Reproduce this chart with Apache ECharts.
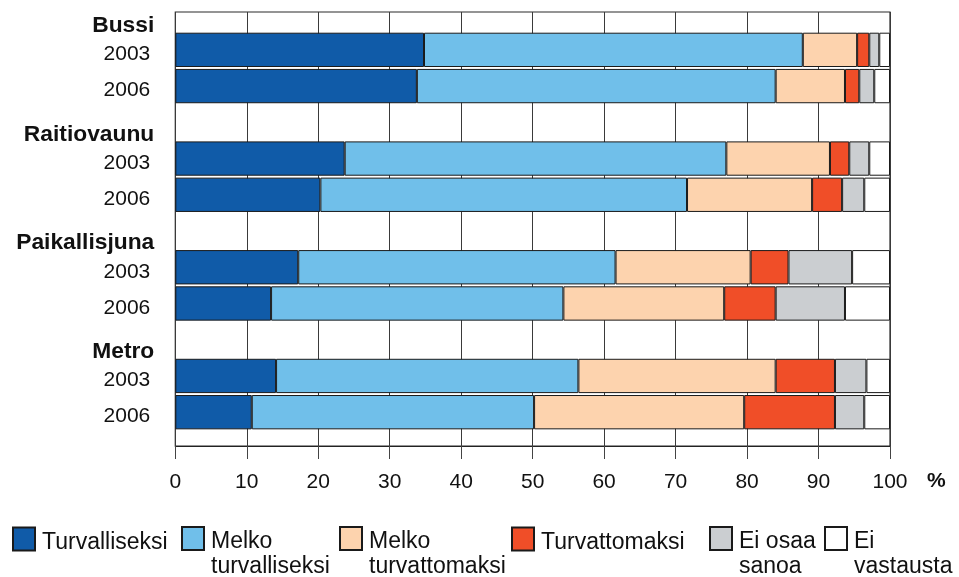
<!DOCTYPE html>
<html>
<head>
<meta charset="utf-8">
<script src="https://cdn.jsdelivr.net/npm/echarts@6/dist/echarts.min.js"></script>
<style>html,body{margin:0;padding:0;background:#fff}#c{width:959px;height:577px}</style>
</head>
<body>
<div id="c"></div>
<script>
// Groups (top to bottom) and survey years
const groups = ['Bussi', 'Raitiovaunu', 'Paikallisjuna', 'Metro'];
const years = ['2003', '2006'];
// Values per group-year, order: Bussi 2003, Bussi 2006, Raitiovaunu 2003, 2006, Paikallisjuna 2003, 2006, Metro 2003, 2006 (%)
const turvalliseksi      = [34.8, 33.8, 23.7, 20.3, 17.2, 13.4, 14.1, 10.7];
const melkoTurvalliseksi = [53.0, 50.2, 53.4, 51.3, 44.4, 40.9, 42.3, 39.5];
const melkoTurvattomaksi = [7.6, 9.7, 14.5, 17.5, 18.9, 22.5, 27.6, 29.4];
const turvattomaksi      = [1.7, 2.0, 2.7, 4.2, 5.3, 7.2, 8.3, 12.7];
const eiOsaaSanoa        = [1.4, 2.1, 2.8, 3.1, 8.9, 9.7, 4.4, 4.1];
const eiVastausta        = [1.5, 2.2, 2.9, 3.6, 5.3, 6.3, 3.3, 3.6];
const seriesNames = ['Turvalliseksi', 'Melko\nturvalliseksi', 'Melko\nturvattomaksi', 'Turvattomaksi', 'Ei osaa\nsanoa', 'Ei\nvastausta'];
const seriesColors = ['#105BA8', '#70BFEA', '#FDD3AE', '#F04E28', '#CBCED1', '#FFFFFF'];
const xTicks = [0, 10, 20, 30, 40, 50, 60, 70, 80, 90, 100];

// Build category rows: a header row per group followed by its years
const rowKeys = [];
groups.forEach(g => { rowKeys.push('h|' + g); years.forEach(y => rowKeys.push('y|' + y + '|' + g)); });
function expand(vals) {
  const out = []; let k = 0;
  groups.forEach(() => { out.push(null); years.forEach(() => out.push(vals[k++])); });
  return out;
}
const allVals = [turvalliseksi, melkoTurvalliseksi, melkoTurvattomaksi, turvattomaksi, eiOsaaSanoa, eiVastausta];

const FONT = "'Liberation Sans', Arial, Helvetica, sans-serif";
const GL = 175.3, GR = 959 - 890;

const legendLefts = [12, 181, 339, 511, 709, 824];
const legends = seriesNames.map((n, i) => {
  const two = n.indexOf('\n') >= 0;
  return {
    data: [n], left: legendLefts[i], top: two ? 497.5 : 523, padding: 0, orient: 'horizontal',
    itemWidth: 22, itemHeight: 23, icon: 'rect', selectedMode: false,
    formatter: name => name.split('\n').map(s => '{a|' + s + '}').join('\n'),
    textStyle: { fontFamily: FONT, fontSize: 23, color: '#111', lineHeight: 25,
      padding: two ? [32, 0, 0, 2] : [7, 0, 0, 2],
      rich: { a: { fontFamily: FONT, fontSize: 23, color: '#111', lineHeight: 25 } } }
  };
});

const chart = echarts.init(document.getElementById('c'), null, { renderer: 'canvas' });
chart.setOption({
  backgroundColor: '#fff',
  animation: false,
  legend: legends,
  grid: [
    { left: GL, right: GR, top: -4.5, height: 434.8, show: false, outerBoundsMode: 'none', containLabel: false },
    { left: GL, right: GR, top: 12, height: 434, show: true, borderColor: '#2a2a2a', borderWidth: 1.2, backgroundColor: 'transparent', outerBoundsMode: 'none', containLabel: false }
  ],
  xAxis: [
    { gridIndex: 0, type: 'value', min: 0, max: 100, show: false },
    { gridIndex: 1, type: 'value', min: 0, max: 100, interval: 10,
      axisLine: { show: true, lineStyle: { color: '#222', width: 1 } },
      axisTick: { show: true, length: 13, inside: false, lineStyle: { color: '#444', width: 1 } },
      splitLine: { show: true, lineStyle: { color: '#3a3a3a', width: 1 } },
      axisLabel: { margin: 26, fontFamily: FONT, fontSize: 21, color: '#111',
        formatter: v => xTicks.indexOf(v) >= 0 ? String(v) : '' },
      name: '{p|%}', nameLocation: 'end', nameGap: 37,
      nameTextStyle: { align: 'left', rich: { p: { fontFamily: FONT, fontSize: 21, fontWeight: 'bold', color: '#111', padding: [70, 0, 0, 0] } } }
    }
  ],
  yAxis: [
    { gridIndex: 0, type: 'category', inverse: true, data: rowKeys,
      axisLine: { show: false }, axisTick: { show: false }, splitLine: { show: false },
      axisLabel: { margin: 21, interval: 0,
        formatter: v => { const p = v.split('|'); return p[0] === 'h' ? '{h|' + p[1] + '}' : '{y|' + p[1] + '}'; },
        rich: {
          h: { fontFamily: FONT, fontSize: 22.8, fontWeight: 'bold', color: '#111', padding: [24, 0, 0, 0] },
          y: { fontFamily: FONT, fontSize: 21, color: '#111', padding: [9, 4, 0, 0] }
        }
      }
    },
    { gridIndex: 1, type: 'value', min: 0, max: 1, show: false }
  ],
  series: allVals.map((vals, i) => ({
    name: seriesNames[i], type: 'bar', stack: 'all', xAxisIndex: 0, yAxisIndex: 0,
    barCategoryGap: '5.3%',
    itemStyle: { color: seriesColors[i], borderColor: '#1a1a1a', borderWidth: 1 },
    data: expand(vals)
  }))
});
</script>
</body>
</html>
